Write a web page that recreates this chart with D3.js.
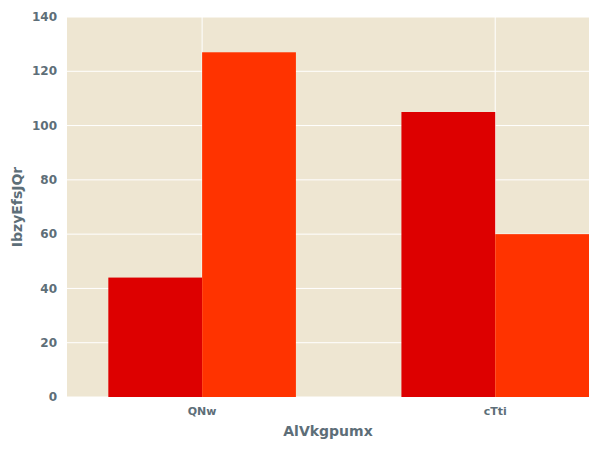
<!DOCTYPE html>
<meta charset="utf-8">
<style>
  body { margin: 0; background: #fff; }
  text { font-family: "DejaVu Sans", sans-serif; font-weight: bold; fill: #5d6e78; }
</style>
<svg width="600" height="450"></svg>
<script src="https://d3js.org/d3.v7.min.js"></script>
<script>
var categories = ["QNw", "cTti"];
var series1 = [44, 105];
var series2 = [127, 60];
var yTicks = [0, 20, 40, 60, 80, 100, 120, 140];
var colors = ["#dd0000", "#ff3300"];

var svg = d3.select("svg"),
    plotL = 67, plotR = 589, plotT = 17, plotB = 397,
    halfW = 0.32;

var x = d3.scaleLinear().domain([-0.461, 1.32]).range([plotL, plotR]);
var y = d3.scaleLinear().domain([0, 140]).range([plotB, plotT]);

svg.append("rect").attr("x", plotL).attr("y", plotT)
    .attr("width", plotR - plotL).attr("height", plotB - plotT).attr("fill", "#eee6d2");

// grid
svg.selectAll(".hg").data(yTicks).enter().append("line")
    .attr("x1", plotL).attr("x2", plotR)
    .attr("y1", d => y(d)).attr("y2", d => y(d))
    .attr("stroke", "#fff").attr("stroke-width", 1);
svg.selectAll(".vg").data(categories).enter().append("line")
    .attr("x1", (d, i) => x(i)).attr("x2", (d, i) => x(i))
    .attr("y1", plotT).attr("y2", plotB)
    .attr("stroke", "#fff").attr("stroke-width", 1);

[series1, series2].forEach(function (s, k) {
  svg.selectAll(".b" + k).data(s).enter().append("rect")
      .attr("x", (d, i) => k === 0 ? x(i - halfW) : x(i))
      .attr("width", x(halfW) - x(0))
      .attr("y", d => y(d))
      .attr("height", d => y(0) - y(d))
      .attr("fill", colors[k]);
});

svg.selectAll(".yt").data(yTicks).enter().append("text")
    .attr("x", plotL - 10).attr("y", d => y(d)).attr("dy", "0.35em")
    .attr("text-anchor", "end").attr("font-size", 12).text(d => d);

svg.selectAll(".xt").data(categories).enter().append("text")
    .attr("x", (d, i) => x(i)).attr("y", plotB + 18)
    .attr("text-anchor", "middle").attr("font-size", 11).text(d => d);

svg.append("text").attr("x", (plotL + plotR) / 2).attr("y", 436)
    .attr("text-anchor", "middle").attr("font-size", 14).text("AlVkgpumx");

svg.append("text").attr("transform", "translate(22," + (plotT + plotB) / 2 + ") rotate(-90)")
    .attr("text-anchor", "middle").attr("font-size", 14).text("IbzyEfsJQr");
</script>
